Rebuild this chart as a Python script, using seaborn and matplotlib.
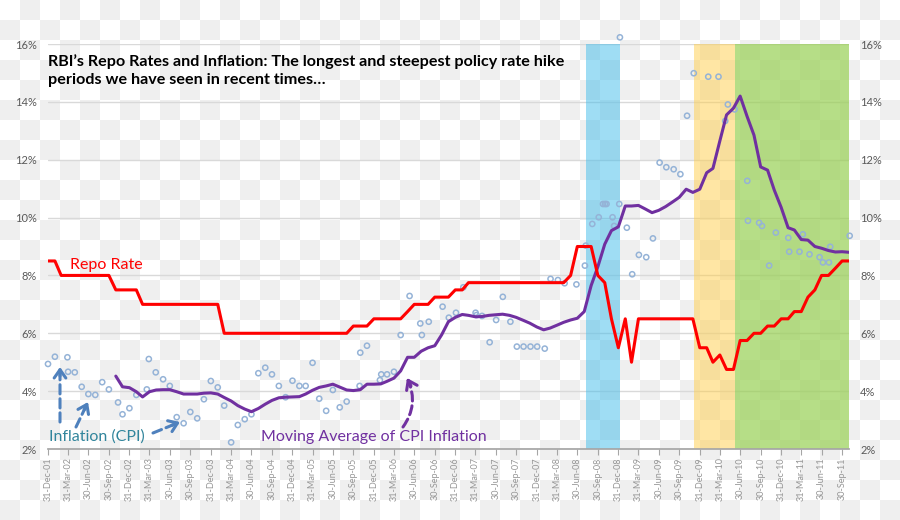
import numpy as np
import pandas as pd
import seaborn as sns
import matplotlib.pyplot as plt
import matplotlib.dates as mdates
from matplotlib import ticker

# monthly series, 31-Dec-01 .. 31-Oct-11
months = pd.date_range("2001-12-31", "2011-10-31", freq=pd.offsets.MonthEnd())

repo = [8.5,
        8.5, 8.0, 8.0, 8.0, 8.0, 8.0, 8.0, 8.0, 8.0, 7.5, 7.5, 7.5,
        7.5, 7.0, 7.0, 7.0, 7.0, 7.0, 7.0, 7.0, 7.0, 7.0, 7.0, 7.0,
        7.0, 6.0, 6.0, 6.0, 6.0, 6.0, 6.0, 6.0, 6.0, 6.0, 6.0, 6.0,
        6.0, 6.0, 6.0, 6.0, 6.0, 6.0, 6.0, 6.0, 6.25, 6.25, 6.25, 6.5,
        6.5, 6.5, 6.5, 6.5, 6.75, 7.0, 7.0, 7.0, 7.25, 7.25, 7.25, 7.5,
        7.5, 7.75, 7.75, 7.75, 7.75, 7.75, 7.75, 7.75, 7.75, 7.75, 7.75, 7.75,
        7.75, 7.75, 7.75, 7.75, 8.0, 9.0, 9.0, 9.0, 8.0, 7.75, 6.5, 5.5,
        6.5, 5.0, 6.5, 6.5, 6.5, 6.5, 6.5, 6.5, 6.5, 6.5, 6.5, 5.5,
        5.5, 5.0, 5.25, 4.75, 4.75, 5.75, 5.75, 6.0, 6.0, 6.25, 6.25, 6.5,
        6.5, 6.75, 6.75, 7.25, 7.5, 8.0, 8.0, 8.25, 8.5, 8.5]

nan = np.nan
moving_avg = [nan,
              nan, nan, nan, nan, nan, nan, nan, nan, nan, 4.52, 4.15, 4.12,
              3.98, 3.80, 3.98, 4.04, 4.05, 4.05, 3.98, 3.90, 3.90, 3.90, 3.93, 3.94,
              3.90, 3.78, 3.66, 3.50, 3.38, 3.29, 3.40, 3.55, 3.68, 3.77, 3.79, 3.80,
              3.81, 3.90, 4.03, 4.13, 4.18, 4.24, 4.14, 4.04, 4.02, 4.05, 4.24, 4.24,
              4.25, 4.34, 4.45, 4.70, 5.17, 5.17, 5.38, 5.50, 5.57, 5.95, 6.40, 6.55,
              6.65, 6.62, 6.57, 6.58, 6.62, 6.64, 6.66, 6.62, 6.55, 6.45, 6.35, 6.22,
              6.12, 6.18, 6.28, 6.38, 6.46, 6.52, 6.75, 7.65, 8.30, 9.08, 9.55, 9.68,
              10.40, 10.40, 10.42, 10.30, 10.17, 10.25, 10.38, 10.54, 10.70, 10.98, 10.87, 10.98,
              11.55, 11.70, 12.65, 13.55, 13.78, 14.20, 13.50, 12.85, 11.75, 11.64, 10.95, 10.35,
              9.65, 9.57, 9.24, 9.22, 9.00, 8.94, 8.86, 8.81, 8.82, 8.80]

cpi_dates = [
    "2001-12-31", "2002-01-31", "2002-03-28", "2002-03-31", "2002-04-30", "2002-05-31", "2002-06-30", "2002-07-31", "2002-08-31", "2002-09-30",
    "2002-11-10", "2002-11-30", "2002-12-31", "2003-01-31", "2003-03-19", "2003-03-28", "2003-04-28", "2003-05-31", "2003-06-30", "2003-07-31",
    "2003-08-31", "2003-09-30", "2003-10-31", "2003-11-30", "2003-12-31", "2004-01-31", "2004-02-29", "2004-03-31", "2004-04-30", "2004-05-31",
    "2004-06-30", "2004-07-31", "2004-08-31", "2004-09-30", "2004-10-31", "2004-11-30", "2004-12-31", "2005-01-31", "2005-02-28", "2005-03-31",
    "2005-04-30", "2005-05-31", "2005-06-30", "2005-07-31", "2005-08-31", "2005-10-28", "2005-10-31", "2005-11-30", "2006-01-27", "2006-02-02",
    "2006-02-28", "2006-03-31", "2006-04-30", "2006-06-09", "2006-07-27", "2006-08-03", "2006-09-03", "2006-11-04", "2006-12-02", "2007-01-03",
    "2007-02-05", "2007-04-01", "2007-04-05", "2007-04-30", "2007-06-03", "2007-07-02", "2007-08-01", "2007-09-04", "2007-10-03", "2007-11-02",
    "2007-12-03", "2008-01-02", "2008-02-05", "2008-03-02", "2008-04-04", "2008-05-04", "2008-06-26", "2008-08-03", "2008-08-07", "2008-09-05",
    "2008-10-04", "2008-10-23", "2008-11-01", "2008-11-08", "2008-12-05", "2008-12-12", "2009-01-04", "2009-01-07", "2009-02-07", "2009-03-03",
    "2009-04-02", "2009-05-05", "2009-06-04", "2009-07-04", "2009-08-03", "2009-09-05", "2009-10-05", "2009-11-04", "2009-12-04", "2010-02-07",
    "2010-03-25", "2010-04-24", "2010-05-06", "2010-06-05", "2010-08-01", "2010-08-04", "2010-09-23", "2010-10-06", "2010-11-07", "2010-12-07",
    "2011-02-01", "2011-02-05", "2011-03-23", "2011-04-07", "2011-05-07", "2011-06-21", "2011-07-06", "2011-08-02", "2011-08-08", "2011-11-03",
]
cpi = [4.94, 5.19, 5.17, 4.67, 4.65, 4.15, 3.90, 3.87, 4.31, 4.06,
       3.61, 3.20, 3.41, 3.87, 4.06, 5.11, 4.65, 4.41, 4.18, 3.10,
       2.89, 3.28, 3.06, 3.72, 4.35, 4.13, 3.50, 2.23, 2.83, 3.03,
       3.20, 4.62, 4.81, 4.58, 4.18, 3.79, 4.36, 4.18, 4.18, 4.98,
       3.74, 3.32, 4.04, 3.44, 3.64, 4.18, 5.33, 5.57, 4.38, 4.58,
       4.58, 4.67, 5.94, 7.29, 6.34, 5.94, 6.40, 6.92, 6.54, 6.71,
       7.59, 6.71, 6.63, 6.60, 5.69, 6.46, 7.26, 6.40, 5.54, 5.54,
       5.54, 5.54, 5.47, 7.88, 7.84, 7.73, 7.69, 8.34, 9.03, 9.78,
       10.01, 10.47, 10.47, 10.47, 10.01, 9.71, 10.47, 16.23, 9.65, 8.04,
       8.71, 8.63, 9.28, 11.90, 11.74, 11.67, 11.50, 13.52, 14.99, 14.87,
       14.87, 13.34, 13.91, 13.74, 11.27, 9.89, 9.82, 9.71, 8.34, 9.48,
       9.30, 8.82, 8.82, 9.42, 8.73, 8.63, 8.45, 8.45, 8.99, 9.37]

# shaded policy periods
span_start = ["2008-08-07", "2009-12-04", "2010-06-05"]
span_end = ["2009-01-07", "2010-06-05", "2011-10-31"]
span_color = ["#41bdeb", "#ffcf4b", "#98d054"]
span_alpha = [0.5, 0.5, 0.7]

quarters = pd.date_range("2001-12-31", "2011-09-30", freq=pd.offsets.QuarterEnd())

df = pd.DataFrame({"date": months, "repo": repo, "ma": moving_avg})
cpi_df = pd.DataFrame({"date": pd.to_datetime(cpi_dates), "cpi": cpi})

sns.set_theme(style="white")
plt.rcParams["font.family"] = ["Lato", "DejaVu Sans"]

fig = plt.figure(figsize=(9, 5.2), dpi=100)
fig.patch.set_facecolor("white")

# transparent-background checkerboard seen in the reference
bg = fig.add_axes([0, 0, 1, 1], zorder=-10)
rr, cc = np.indices((26, 45))
board = np.where((rr + cc) % 2 == 1, 0.937, 1.0)
bg.imshow(board, cmap="gray", vmin=0, vmax=1, extent=[0, 900, 520, 0],
          interpolation="nearest", aspect="auto")
bg.set_axis_off()

ax = fig.add_axes([48 / 900, 1 - 449 / 520, (849 - 48) / 900, (449 - 44) / 520])
ax.set_facecolor("none")

for a, b, c, al in zip(span_start, span_end, span_color, span_alpha):
    ax.axvspan(pd.Timestamp(a), pd.Timestamp(b), color=c, alpha=al, lw=0, zorder=1)

sns.scatterplot(data=cpi_df, x="date", y="cpi", marker="o", s=14, facecolor="none",
                edgecolor="#95b3d7", linewidth=1.1, ax=ax, zorder=2, clip_on=False)
sns.lineplot(data=df.dropna(), x="date", y="ma", color="#7030a0", lw=2.2, ax=ax, zorder=3)
sns.lineplot(data=df, x="date", y="repo", color="#ff0000", lw=2.2, ax=ax, zorder=4)

ax.set_xlim(months[0], months[-1])
ax.set_ylim(2, 16)
ax.set_yticks(range(2, 17, 2))
ax.yaxis.set_major_formatter(ticker.FuncFormatter(lambda v, p: f"{v:.0f}%"))
ax.grid(axis="y", color="#d9d9d9", lw=1)
ax.set_axisbelow(True)
ax.set_xticks(quarters)
ax.xaxis.set_major_formatter(mdates.DateFormatter("%d-%b-%y"))
ax.tick_params(axis="x", rotation=90, labelsize=6.5, labelcolor="#969696",
               color="#a6a6a6", length=4, width=0.8, pad=2, bottom=True)
ax.tick_params(axis="y", length=0, labelsize=8, labelcolor="#595959",
               labelleft=True, labelright=True, pad=8)
ax.set_xlabel("")
ax.set_ylabel("")
sns.despine(ax=ax, left=True)
ax.spines["bottom"].set_color("#a6a6a6")

fig.text(48 / 900, 1 - 54 / 520,
         "RBI’s Repo Rates and Inflation: The longest and steepest policy rate hike\n"
         "periods we have seen in recent times…",
         fontsize=11.6, fontweight="bold", color="black", va="top", ha="left", linespacing=1.4)
fig.text(70 / 900, 1 - 265 / 520, "Repo Rate", color="#ff0000", fontsize=11.5, va="center")
fig.text(49 / 900, 1 - 437 / 520, "Inflation (CPI)", color="#31859c", fontsize=11.5, va="center")
fig.text(261 / 900, 1 - 437 / 520, "Moving Average of CPI Inflation", color="#7030a0",
         fontsize=11.5, va="center")


def dashed_arrow(x0, y0, x1, y1, color, rad=0.0):
    p0 = (x0, 520 - y0)
    p1 = (x1, 520 - y1)
    ax.annotate("", xy=p1, xytext=p0, xycoords="figure pixels", textcoords="figure pixels",
                arrowprops=dict(arrowstyle="-", color=color, lw=2.2, ls=(0, (3, 1.6)),
                                shrinkA=0, shrinkB=2, connectionstyle=f"arc3,rad={rad}"))
    cx = (p0[0] + p1[0]) / 2 + rad * (p1[1] - p0[1])
    cy = (p0[1] + p1[1]) / 2 - rad * (p1[0] - p0[0])
    d = np.array([p1[0] - cx, p1[1] - cy])
    d = d / np.hypot(*d)
    ax.annotate("", xy=p1, xytext=(p1[0] - d[0] * 9, p1[1] - d[1] * 9),
                xycoords="figure pixels", textcoords="figure pixels",
                arrowprops=dict(arrowstyle="->,head_length=0.5,head_width=0.35", color=color,
                                lw=2.2, shrinkA=0, shrinkB=0))


dashed_arrow(60, 422, 60, 367, "#4f81bd")
dashed_arrow(76, 427, 88, 402, "#4f81bd")
dashed_arrow(153, 433, 180, 422, "#4f81bd")
dashed_arrow(403, 427, 407, 378, "#7030a0", rad=0.3)

fig.savefig("out.png", dpi=100)
